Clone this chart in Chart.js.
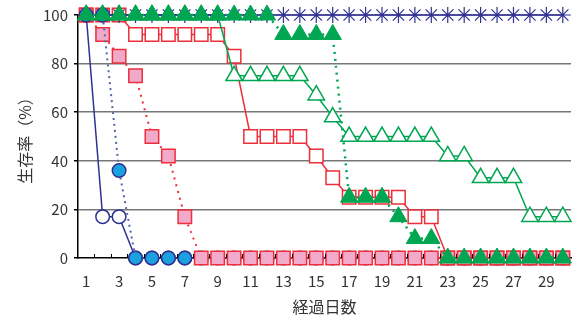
<!DOCTYPE html>
<html>
<head>
<meta charset="utf-8">
<script src="https://cdn.jsdelivr.net/npm/chart.js@4/dist/chart.umd.min.js"></script>
<style>
  html, body { margin: 0; padding: 0; background: #fff; }
  #wrap { width: 582px; height: 321px; }
</style>
</head>
<body>
<div id="wrap"><canvas id="c"></canvas></div>
<script>
// days 1..30
const days = Array.from({ length: 30 }, (_, i) => i + 1);
const xTickLabels = [1, 3, 5, 7, 9, 11, 13, 15, 17, 19, 21, 23, 25, 27, 29];

// survival rate (%) per day
const asterisk   = [100,100,100,100,100,100,100,100,100,100,100,100,100,100,100,100,100,100,100,100,100,100,100,100,100,100,100,100,100,100];
const openCircle = [100,17,17,0,0,0,0,0,0,0,0,0,0,0,0,0,0,0,0,0,0,0,0,0,0,0,0,0,0,0];
const fillCircle = [100,100,36,0,0,0,0];
const fillSquare = [100,92,83,75,50,42,17,0,0,0,0,0,0,0,0,0,0,0,0,0,0,0,0,0,0,0,0,0,0,0];
const openSquare = [100,100,100,92,92,92,92,92,92,83,50,50,50,50,42,33,25,25,25,25,17,17,0,0,0,0,0,0,0,0];
const openTri    = [100,100,100,100,100,100,100,100,100,75,75,75,75,75,67,58,50,50,50,50,50,50,42,42,33,33,33,17,17,17];
const fillTri    = [100,100,100,100,100,100,100,100,100,100,100,100,92,92,92,92,25,25,25,17,8,8,0,0,0,0,0,0,0,0];

const yTicks = [0, 20, 40, 60, 80, 100];

const NAVY = '#2E3192';
const CYAN = '#1BA1DE';
const RED = '#EC2F3B';
const PINK = '#F2AACB';
const GREEN = '#00A651';
const FONT = '"Noto Sans CJK JP", "Noto Sans", sans-serif';

const pts = arr => arr.map((v, i) => ({ x: days[i], y: v }));

// small inward tick marks on the x axis at day boundaries
const xTickMarks = {
  id: 'xTickMarks',
  afterDraw(chart) {
    const { ctx, scales: { x }, chartArea } = chart;
    ctx.save();
    ctx.strokeStyle = '#000';
    ctx.lineWidth = 1;
    for (let v = 1.5; v < 30.5; v += 1) {
      const px = Math.round(x.getPixelForValue(v)) + 0.5;
      ctx.beginPath();
      ctx.moveTo(px, chartArea.bottom);
      ctx.lineTo(px, chartArea.bottom - 4);
      ctx.stroke();
    }
    ctx.restore();
  }
};

// chart.js paints dataset 0 on top, so the topmost series comes first
new Chart(document.getElementById('c'), {
  type: 'line',
  data: {
    datasets: [
      { data: pts(fillTri), borderColor: GREEN, borderWidth: 2.5, borderDash: [2, 5], pointStyle: 'triangle', pointRadius: 10, pointBorderWidth: 1, pointBorderColor: GREEN, pointBackgroundColor: GREEN },
      { data: pts(fillCircle), borderColor: '#5566AA', borderWidth: 2, borderDash: [2, 4], pointStyle: 'circle', pointRadius: 6.8, pointBorderWidth: 1.5, pointBorderColor: NAVY, pointBackgroundColor: CYAN },
      { data: pts(fillSquare), borderColor: RED, borderWidth: 2, borderDash: [2, 5], pointStyle: 'rect', pointRadius: 9.5, pointBorderWidth: 1.5, pointBorderColor: RED, pointBackgroundColor: PINK },
      { data: pts(openCircle), borderColor: NAVY, borderWidth: 1.5, pointStyle: 'circle', pointRadius: 6.8, pointBorderWidth: 1.5, pointBorderColor: NAVY, pointBackgroundColor: '#fff' },
      { data: pts(asterisk), borderColor: NAVY, borderWidth: 1.5, pointStyle: 'star', pointRadius: 8, pointBorderWidth: 1.2, pointBorderColor: NAVY, pointBackgroundColor: NAVY },
      { data: pts(openTri), borderColor: GREEN, borderWidth: 1.5, pointStyle: 'triangle', pointRadius: 9.5, pointBorderWidth: 1.5, pointBorderColor: GREEN, pointBackgroundColor: '#fff' },
      { data: pts(openSquare), borderColor: RED, borderWidth: 1.5, pointStyle: 'rect', pointRadius: 9.5, pointBorderWidth: 1.5, pointBorderColor: RED, pointBackgroundColor: '#fff' }
    ]
  },
  options: {
    responsive: true,
    maintainAspectRatio: false,
    animation: false,
    layout: { padding: { top: 14, right: 2, left: 0, bottom: 0 } },
    plugins: { legend: { display: false }, tooltip: { enabled: false } },
    elements: { line: { tension: 0, fill: false } },
    datasets: { line: { clip: false } },
    scales: {
      x: {
        type: 'linear',
        min: 0.5,
        max: 30.5,
        afterBuildTicks: s => { s.ticks = xTickLabels.map(v => ({ value: v })); },
        afterFit: s => { s.height = 63; },
        grid: { display: false, drawTicks: false },
        border: { display: true, color: '#000', width: 1.5 },
        ticks: { color: '#333', font: { family: FONT, size: 15 }, padding: 14, maxRotation: 0, autoSkip: false },
        title: { display: true, text: '経過日数', color: '#333', font: { family: FONT, size: 16 }, padding: { top: 0 } }
      },
      y: {
        min: 0,
        max: 100,
        afterBuildTicks: s => { s.ticks = yTicks.map(v => ({ value: v })); },
        afterFit: s => { s.width = 78; },
        grid: {
          color: c => (c.tick.value === 0 || c.tick.value === 100) ? 'rgba(0,0,0,0)' : '#777',
          lineWidth: 1.5,
          tickColor: '#000',
          tickLength: 4,
          drawTicks: true
        },
        border: { display: true, color: '#000', width: 1.5 },
        ticks: { color: '#333', font: { family: FONT, size: 15 }, padding: 6 },
        title: { display: true, text: '生存率（%）', color: '#333', font: { family: FONT, size: 16 }, padding: { top: 15, bottom: 0 } }
      }
    }
  },
  plugins: [xTickMarks]
});
</script>
</body>
</html>
